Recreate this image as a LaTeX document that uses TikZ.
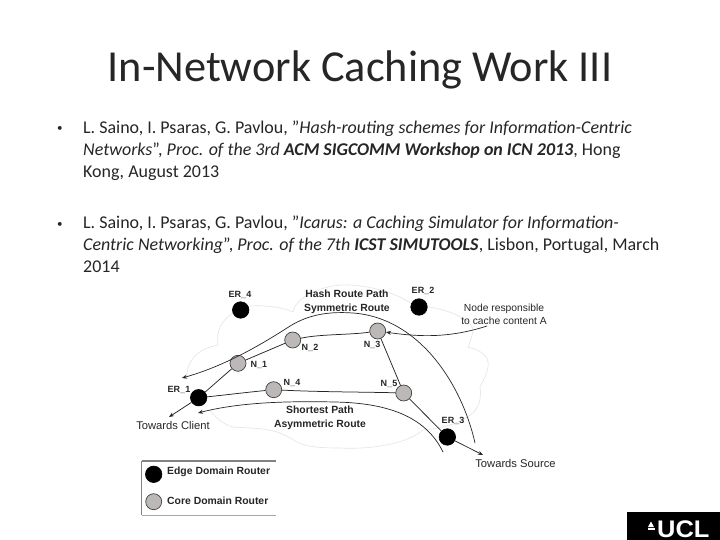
\documentclass[tikz,border=0pt]{standalone}
\usepackage{fontspec}
\setmainfont{Carlito}
\newfontfamily\lab{Liberation Sans}
\usetikzlibrary{arrows.meta}
\definecolor{coregray}{RGB}{188,184,184}
\definecolor{cloudgray}{RGB}{228,228,228}
\definecolor{legendgray}{RGB}{130,130,130}
\tikzset{
  x=1pt,y=-1pt,
  edgerouter/.style={circle,fill=black,draw=black,line width=.6pt,minimum size=16.5pt,inner sep=0pt},
  corerouter/.style={circle,fill=coregray,draw=black!75,line width=.7pt,minimum size=16pt,inner sep=0pt},
  link/.style={draw=black!85,line width=.75pt},
  pathline/.style={draw=black!85,line width=.7pt},
  tip/.style={-{Stealth[length=5pt,width=4pt]}},
  cloudline/.style={draw=cloudgray,line width=.6pt},
  bodytext/.style={anchor=base west,inner sep=0pt,font=\fontsize{17.95}{20}\selectfont,text=black!85},
  routerlabel/.style={inner sep=0pt,font=\lab\bfseries\fontsize{9}{10}\selectfont,text=black!85},
  difftext/.style={inner sep=0pt,align=center,font=\lab\bfseries\fontsize{10.4}{14}\selectfont,text=black!85},
  plaintext/.style={inner sep=0pt,align=center,font=\lab\fontsize{10.3}{13.5}\selectfont,text=black!85},
  sidetext/.style={inner sep=0pt,align=center,font=\lab\fontsize{11.2}{13}\selectfont,text=black!85}
}
\begin{document}
\begin{tikzpicture}
\useasboundingbox (0,0) rectangle (720,540);
\fill[white] (0,0) rectangle (720,540);
% title
\node[inner sep=0pt,anchor=base,font=\fontsize{44.3}{50}\selectfont,text=black!85] (title) at (360,81.5) {In-Network Caching Work III};
% bullets
\node[bodytext,font=\fontsize{11}{12}\selectfont] (b1) at (57,132) {•};
\node[bodytext] (l1) at (83,134) {L. Saino, I. Psaras, G. Pavlou, "\textit{Hash-routing schemes for Information-Centric}};
\node[bodytext] (l2) at (83,156) {\textit{Networks}", \textit{Proc. of the 3rd} \textbf{\textit{ACM SIGCOMM Workshop on ICN 2013}}, Hong};
\node[bodytext] (l3) at (83,178) {Kong, August 2013};
\node[bodytext,font=\fontsize{11}{12}\selectfont] (b2) at (57,227) {•};
\node[bodytext] (l4) at (83,228.5) {L. Saino, I. Psaras, G. Pavlou, "\textit{Icarus: a Caching Simulator for Information-}};
\node[bodytext] (l5) at (83,250.5) {\textit{Centric Networking}", \textit{Proc. of the 7th} \textbf{\textit{ICST SIMUTOOLS}}, Lisbon, Portugal, March};
\node[bodytext] (l6) at (83,272.5) {2014};
% cloud
\draw[cloudline] (233,313) .. controls (222,320) and (216,330) .. (218,345)
  .. controls (200,348) and (186,360) .. (187,377);
\draw[cloudline] (250,306) .. controls (265,305) and (282,307) .. (293,312)
  .. controls (296,298) and (315,288) .. (340,285)
  .. controls (365,284) and (395,292) .. (410,303);
\draw[cloudline] (429,307) .. controls (450,310) and (472,320) .. (473,330)
  .. controls (472,338) and (470,342) .. (468,347)
  .. controls (480,350) and (490,356) .. (488,367)
  .. controls (486,378) and (482,382) .. (480,387)
  .. controls (482,400) and (478,410) .. (470,415)
  .. controls (462,422) and (445,428) .. (423,430)
  .. controls (410,442) and (375,450) .. (340,448)
  .. controls (320,448) and (305,447) .. (295,441)
  .. controls (275,427) and (258,429) .. (233,427)
  .. controls (222,424) and (214,416) .. (210,410);
% routers
\node[edgerouter] (er4) at (240.7,310) {};
\node[edgerouter] (er2) at (419,307) {};
\node[edgerouter] (er1) at (198.7,397.7) {};
\node[edgerouter] (er3) at (447.3,437) {};
\node[corerouter] (n1) at (238,363.3) {};
\node[corerouter] (n2) at (292.7,340) {};
\node[corerouter] (n3) at (377.7,331) {};
\node[corerouter] (n4) at (273.7,389.7) {};
\node[corerouter] (n5) at (403.7,393) {};
\coordinate (client) at (169,417);
\coordinate (source) at (483,455);
\coordinate (upA) at (182,378);
\coordinate (upB) at (475,443);
\coordinate (lowA) at (198,413);
\coordinate (lowB) at (443,452);
\coordinate (note) at (487,326);
% links
\draw[link] (er1) -- (n1);
\draw[link] (n1) -- (n2);
\draw[link] (n2) .. controls (320,334) and (350,335) .. (n3);
\draw[link] (n3) -- (n5);
\draw[link] (n5) -- (er3);
\draw[link] (er1) .. controls (225,395) and (250,392) .. (n4);
\draw[link] (n4) .. controls (320,392) and (365,392) .. (n5);
\draw[link,tip] (er1) -- (client);
\draw[link,tip] (er3) -- (source);
% paths
\draw[pathline,tip] (upB) .. controls (462,385) and (420,318) .. (353,313)
  .. controls (325,311) and (305,316) .. (287,328)
  .. controls (262,344) and (225,366) .. (upA);
\draw[pathline,tip] (lowB) .. controls (425,415) and (385,403) .. (335,402)
  .. controls (290,401) and (240,402) .. (lowA);
\draw[pathline,tip] (note) .. controls (450,338) and (420,337) .. (n3);
% labels
\node[routerlabel] (er4t) at (240,295) {ER\_4};
\node[routerlabel] (er2t) at (423,291) {ER\_2};
\node[routerlabel] (er1t) at (179,390) {ER\_1};
\node[routerlabel] (er3t) at (453,421) {ER\_3};
\node[routerlabel] (n1t) at (259,365) {N\_1};
\node[routerlabel] (n2t) at (310,348) {N\_2};
\node[routerlabel] (n3t) at (372,345) {N\_3};
\node[routerlabel] (n4t) at (292,383) {N\_4};
\node[routerlabel] (n5t) at (389,384) {N\_5};
\node[difftext] (hash) at (347,302) {Hash Route Path\\Symmetric Route};
\node[difftext] (short) at (320,418) {Shortest Path\\Asymmetric Route};
\node[plaintext] (notet) at (504,314.5) {Node responsible\\to cache content A};
\node[sidetext] (clientt) at (173,425.5) {Towards Client};
\node[sidetext] (sourcet) at (515.5,463.5) {Towards Source};
% legend
\coordinate (lgA) at (141.7,515);
\coordinate (lgB) at (141.7,461);
\coordinate (lgC) at (275.7,461);
\coordinate (lgD) at (275.7,515);
\draw[draw=legendgray,line width=.7pt] (lgA) -- (lgB);
\draw[draw=legendgray,line width=1.2pt] (lgB) -- (lgC);
\draw[draw=black!35,line width=.7pt] (lgA) -- (lgD);
\node[edgerouter] (lg1) at (153.7,474.3) {};
\node[corerouter] (lg2) at (153.7,501.7) {};
\node[routerlabel,anchor=west,font=\lab\bfseries\fontsize{10.4}{12}\selectfont] (lg1t) at (167,472) {Edge Domain Router};
\node[routerlabel,anchor=west,font=\lab\bfseries\fontsize{10.4}{12}\selectfont] (lg2t) at (167,500.5) {Core Domain Router};
% logo
\fill[black] (626.5,512) rectangle (720,540);
\node[inner sep=0pt,anchor=base west,text=white,xscale=1.06,font=\lab\bfseries\fontsize{24}{24}\selectfont] (ucl) at (657,537) {UCL};
\fill[white] (651,521.5) -- (648,527) -- (654,527) -- cycle;
\fill[white] (647.5,528) rectangle (654.5,529.5);
\end{tikzpicture}
\end{document}
